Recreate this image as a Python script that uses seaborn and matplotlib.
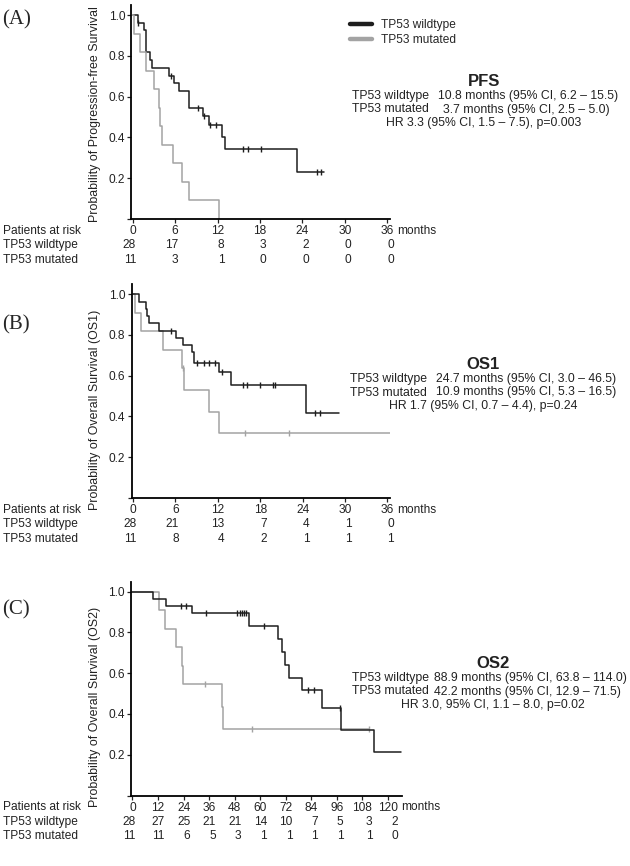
import numpy as np
import pandas as pd
import seaborn as sns
import matplotlib.pyplot as plt
from matplotlib.lines import Line2D

# Kaplan-Meier step data (time in months)

# (A) PFS
pfs_wt_t = [0, 0.7, 1.6, 1.9, 2.4, 2.7, 5.1, 5.8, 6.5, 7.9, 10.0, 10.85, 12.6, 13.1, 23.2, 27.0]
pfs_wt_s = [1.0, 0.964, 0.927, 0.821, 0.78, 0.739, 0.70, 0.665, 0.627, 0.545, 0.505, 0.46, 0.40, 0.345, 0.23, 0.23]
pfs_wt_cens = [0.8, 5.4, 9.2, 10.1, 11.0, 11.8, 15.6, 16.3, 18.1, 26.1, 26.7]
pfs_mut_t = [0, 0.2, 1.0, 1.9, 3.0, 3.65, 3.9, 4.1, 5.7, 7.0, 7.9, 12.2]
pfs_mut_s = [1.0, 0.909, 0.818, 0.727, 0.636, 0.545, 0.455, 0.364, 0.273, 0.182, 0.091, 0.0]
pfs_mut_cens = []

# (B) OS1
os1_wt_t = [0, 0.9, 1.8, 2.0, 2.2, 3.7, 6.1, 7.1, 8.3, 8.6, 12.1, 13.9, 24.5, 29.1]
os1_wt_s = [1.0, 0.964, 0.929, 0.893, 0.857, 0.821, 0.785, 0.75, 0.714, 0.661, 0.62, 0.555, 0.415, 0.415]
os1_wt_cens = [5.4, 9.1, 10.1, 10.8, 11.6, 12.6, 15.5, 16.1, 17.9, 19.8, 20.1, 25.7, 26.4]
os1_mut_t = [0, 0.25, 1.1, 4.3, 7.0, 7.2, 10.8, 12.1, 36.3]
os1_mut_s = [1.0, 0.909, 0.818, 0.727, 0.636, 0.53, 0.424, 0.318, 0.318]
os1_mut_cens = [7.1, 15.9, 22.0]

# (C) OS2
os2_wt_t = [0, 9.7, 15.6, 27.9, 54.8, 68.5, 70.1, 71.7, 73.6, 79.5, 88.9, 97.8, 113.5, 126.0]
os2_wt_s = [1.0, 0.964, 0.929, 0.893, 0.833, 0.77, 0.705, 0.642, 0.578, 0.516, 0.429, 0.323, 0.212, 0.212]
os2_wt_cens = [22.7, 25.0, 34.7, 49.3, 50.3, 51.3, 52.3, 53.5, 61.8, 82.6, 85.3, 97.5]
os2_mut_t = [0, 12.5, 15.3, 20.3, 23.2, 23.8, 42.2, 42.7, 111.0]
os2_mut_s = [1.0, 0.909, 0.818, 0.727, 0.636, 0.545, 0.436, 0.327, 0.327]
os2_mut_cens = [34.1, 56.3, 111.0]

# patients at risk
ticks_short = [0, 6, 12, 18, 24, 30, 36]
ticks_long = [0, 12, 24, 36, 48, 60, 72, 84, 96, 108, 120]
risk_pfs_wt = [28, 17, 8, 3, 2, 0, 0]
risk_pfs_mut = [11, 3, 1, 0, 0, 0, 0]
risk_os1_wt = [28, 21, 13, 7, 4, 1, 0]
risk_os1_mut = [11, 8, 4, 2, 1, 1, 1]
risk_os2_wt = [28, 27, 25, 21, 21, 14, 10, 7, 5, 3, 2]
risk_os2_mut = [11, 11, 6, 5, 3, 1, 1, 1, 1, 1, 0]

groups = ['TP53 wildtype', 'TP53 mutated']
c_wt = '#1e1e1e'
c_mut = '#a3a3a3'
FS = 8.6
FS_STAT = 8.8

sns.set_style('ticks')
plt.rcParams['font.family'] = ['Liberation Sans', 'DejaVu Sans']

W, H = 630, 866
fig = plt.figure(figsize=(W / 100, H / 100), dpi=100)


def fx(px):
    return px / W


def fy(py):
    return 1 - py / H


def surv_at(t_list, s_list, t):
    i = np.searchsorted(np.array(t_list), t, side='right') - 1
    return s_list[i]


def km_panel(rect, xlim, ticks, curves, risk, ylabel, ylabel_xy):
    ax = fig.add_axes(rect)
    for t_list, s_list, cens, col in curves:
        df = pd.DataFrame({'t': t_list, 's': s_list})
        sns.lineplot(data=df, x='t', y='s', drawstyle='steps-post', color=col,
                     lw=1.1, estimator=None, sort=False, ax=ax, legend=False)
        if len(cens):
            dc = pd.DataFrame({'t': cens, 's': [surv_at(t_list, s_list, c) for c in cens]})
            sns.scatterplot(data=dc, x='t', y='s', marker='|', s=22, color=col,
                            linewidth=1.0, ax=ax, legend=False)
    ax.set_xlim(*xlim)
    ax.set_ylim(0, 1.05)
    ax.set_xticks(ticks)
    ax.set_xticklabels([str(t) for t in ticks])
    ax.set_yticks([0, 0.2, 0.4, 0.6, 0.8, 1.0])
    ax.set_yticklabels(['', '0.2', '0.4', '0.6', '0.8', '1.0'])
    ax.tick_params(labelsize=FS, length=3, width=0.9, pad=1.5, colors='#222222')
    for sp in ['left', 'bottom']:
        ax.spines[sp].set_linewidth(1.3)
        ax.spines[sp].set_color('black')
    sns.despine(ax=ax)
    ax.set_xlabel('')
    ax.set_ylabel(ylabel, fontsize=8.9, color='#222222')
    ax.yaxis.set_label_coords(*ylabel_xy)

    # at-risk table under the axis
    ax.annotate('months', xy=(ticks[-1], 0), xycoords=('data', 'axes fraction'),
                xytext=(len(str(ticks[-1])) * 2.4 + 2.5, -8.6), textcoords='offset points',
                ha='left', va='center', fontsize=FS, color='#222222')
    rows = ['Patients at risk'] + groups
    for k, lab in enumerate(rows):
        ax.annotate(lab, xy=(fx(3), 0), xycoords=('figure fraction', 'axes fraction'),
                    xytext=(0, -8.6 - k * 10.4), textcoords='offset points',
                    ha='left', va='center', fontsize=FS, color='#222222')
    for k, vals in enumerate(risk):
        for t, n in zip(ticks, vals):
            ax.annotate(str(n), xy=(t, 0), xycoords=('data', 'axes fraction'),
                        xytext=(len(str(t)) * 2.4, -19.0 - k * 10.2), textcoords='offset points',
                        ha='right', va='center', fontsize=FS, color='#222222')
    return ax


def stats_block(title, title_y, x_lab, x_val, vals, hr, hr_x):
    fig.text(fx(hr_x), fy(title_y), title, fontsize=12, fontweight='bold',
             ha='center', va='center', color='#222222')
    for k in range(2):
        yy = fy(title_y + 15 + 13.5 * k)
        fig.text(fx(x_lab), yy, groups[k], fontsize=FS_STAT, ha='left', va='center', color='#222222')
        fig.text(fx(x_val[k]), yy, vals[k], fontsize=FS_STAT, ha='left', va='center', color='#222222')
    fig.text(fx(hr_x), fy(title_y + 15 + 27), hr, fontsize=FS_STAT, ha='center', va='center', color='#222222')


rect_a = [fx(131.3), (H - 219) / H, 258.7 / W, 214 / H]
rect_b = [fx(131.6), (H - 498) / H, 258.7 / W, 214 / H]
rect_c = [fx(131.2), (H - 795.5) / H, 270.6 / W, 214 / H]

ax_a = km_panel(rect_a, (-0.2, 36.4), ticks_short,
                [(pfs_wt_t, pfs_wt_s, pfs_wt_cens, c_wt), (pfs_mut_t, pfs_mut_s, pfs_mut_cens, c_mut)],
                [risk_pfs_wt, risk_pfs_mut], 'Probability of Progression-free Survival', (-0.117, 0.49))
ax_b = km_panel(rect_b, (-0.2, 36.4), ticks_short,
                [(os1_mut_t, os1_mut_s, os1_mut_cens, c_mut), (os1_wt_t, os1_wt_s, os1_wt_cens, c_wt)],
                [risk_os1_wt, risk_os1_mut], 'Probability of Overall Survival (OS1)', (-0.117, 0.41))
ax_c = km_panel(rect_c, (-0.6, 126.5), ticks_long,
                [(os2_mut_t, os2_mut_s, os2_mut_cens, c_mut), (os2_wt_t, os2_wt_s, os2_wt_cens, c_wt)],
                [risk_os2_wt, risk_os2_mut], 'Probability of Overall Survival (OS2)', (-0.112, 0.415))

# legend (top right)
handles = [Line2D([], [], color=c_wt, lw=3.2), Line2D([], [], color=c_mut, lw=3.2)]
fig.legend(handles, groups, loc='upper left', bbox_to_anchor=(fx(350), fy(19)),
           frameon=False, fontsize=FS, handlelength=1.85, handletextpad=0.75,
           borderpad=0, borderaxespad=0, labelspacing=0.25)

stats_block('PFS', 81, 352, [438, 443],
            ['10.8 months (95% CI, 6.2 \u2013 15.5)', '3.7 months (95% CI, 2.5 \u2013 5.0)'],
            'HR 3.3 (95% CI, 1.5 \u2013 7.5), p=0.003', 484)
stats_block('OS1', 364, 350, [436, 436],
            ['24.7 months (95% CI, 3.0 \u2013 46.5)', '10.9 months (95% CI, 5.3 \u2013 16.5)'],
            'HR 1.7 (95% CI, 0.7 \u2013 4.4), p=0.24', 483)
stats_block('OS2', 663, 352, [434, 434],
            ['88.9 months (95% CI, 63.8 \u2013 114.0)', '42.2 months (95% CI, 12.9 \u2013 71.5)'],
            'HR 3.0, 95% CI, 1.1 \u2013 8.0, p=0.02', 493)

# panel letters
for lab, yy in [('(A)', 20), ('(B)', 325), ('(C)', 610)]:
    fig.text(fx(2), fy(yy), lab, fontsize=15, family='Liberation Serif', ha='left', va='center')

fig.savefig('out.png', dpi=100)
